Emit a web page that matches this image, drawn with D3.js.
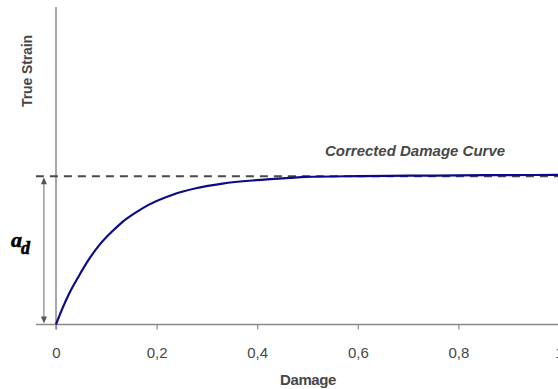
<!DOCTYPE html>
<html>
<head>
<meta charset="utf-8">
<script src="https://cdn.jsdelivr.net/npm/d3@7"></script>
<style>
  html, body { margin: 0; padding: 0; background: #fff; }
  svg { display: block; }
</style>
</head>
<body>
<svg id="chart" width="558" height="389"></svg>
<script>
// ---- data ----
const damage = [0, 0.013, 0.026, 0.046, 0.066, 0.086, 0.113, 0.133, 0.159, 0.185, 0.232, 0.278, 0.331, 0.398, 0.463, 0.497, 0.6, 0.7, 0.8, 0.9, 1.0];
const strain = [0, 0.11, 0.207, 0.330, 0.442, 0.535, 0.632, 0.694, 0.756, 0.808, 0.875, 0.918, 0.950, 0.973, 0.988, 0.995, 1.0, 1.003, 1.005, 1.007, 1.008];
const xTicks = [0, 0.2, 0.4, 0.6, 0.8, 1];
const asymptote = 1.0;
const curveLabel = "Corrected Damage Curve";
const xTitle = "Damage";
const yTitle = "True Strain";

// ---- layout ----
const svg = d3.select("#chart");
const x = d3.scaleLinear().domain([0, 1]).range([56, 559]);
const y = d3.scaleLinear().domain([0, 2.14]).range([324.5, 7]);
const axisColor = "#8a8a8a";
const textColor = "#474747";
const font = "Arial, 'Liberation Sans', sans-serif";

// x axis line (extends a bit left of origin)
svg.append("line")
  .attr("x1", x(-0.04)).attr("x2", 558)
  .attr("y1", y(0)).attr("y2", y(0))
  .attr("stroke", axisColor).attr("stroke-width", 1.5);

// y axis line
svg.append("line")
  .attr("x1", x(0)).attr("x2", x(0))
  .attr("y1", y(2.14)).attr("y2", y(0) + 5)
  .attr("stroke", axisColor).attr("stroke-width", 1.5);

// x ticks + labels
const xAxis = d3.axisBottom(x)
  .tickValues(xTicks)
  .tickSize(5)
  .tickFormat(d => d3.format(".1~f")(d).replace(".", ","));
const gx = svg.append("g").attr("transform", `translate(0,${y(0)})`).call(xAxis);
gx.select(".domain").remove();
gx.selectAll(".tick line").attr("stroke", axisColor).attr("stroke-width", 1.2);
gx.selectAll(".tick text")
  .attr("y", 23).attr("dy", "0.71em")
  .attr("fill", textColor)
  .style("font-family", font).style("font-size", "15px");

// dashed asymptote
svg.append("line")
  .attr("x1", x(-0.04)).attr("x2", 558)
  .attr("y1", y(asymptote)).attr("y2", y(asymptote))
  .attr("stroke", "#4a4a4a").attr("stroke-width", 2)
  .attr("stroke-dasharray", "8,6");

// double arrow for a_d
const ax = x(-0.024);
const yTop = y(asymptote) + 1, yBot = y(0) - 1;
svg.append("line")
  .attr("x1", ax).attr("x2", ax)
  .attr("y1", yTop + 4).attr("y2", yBot - 4)
  .attr("stroke", "#6a6a6a").attr("stroke-width", 1);
svg.append("path")
  .attr("d", `M${ax},${yTop} L${ax - 3},${yTop + 7} L${ax + 3},${yTop + 7} Z`)
  .attr("fill", "#555");
svg.append("path")
  .attr("d", `M${ax},${yBot} L${ax - 3},${yBot - 7} L${ax + 3},${yBot - 7} Z`)
  .attr("fill", "#555");

// curve
const line = d3.line()
  .x((d, i) => x(damage[i]))
  .y((d, i) => y(strain[i]))
  .curve(d3.curveMonotoneX);
svg.append("path")
  .datum(damage)
  .attr("d", line)
  .attr("fill", "none")
  .attr("stroke", "#0b0b86")
  .attr("stroke-width", 2.2);

// curve label
svg.append("text")
  .attr("x", 325).attr("y", 156)
  .attr("fill", textColor)
  .style("font-family", font).style("font-size", "15px")
  .style("font-weight", "bold").style("font-style", "italic")
  .style("letter-spacing", "0px")
  .text(curveLabel);

// x title
svg.append("text")
  .attr("x", 308).attr("y", 385)
  .attr("text-anchor", "middle")
  .attr("fill", textColor)
  .style("font-family", font).style("font-size", "15px")
  .style("font-weight", "bold").style("letter-spacing", "-0.4px")
  .text(xTitle);

// y title
svg.append("text")
  .attr("transform", "translate(32,71) rotate(-90)")
  .attr("text-anchor", "middle")
  .attr("fill", textColor)
  .style("font-family", font).style("font-size", "14px")
  .style("font-weight", "bold").style("letter-spacing", "-0.1px")
  .text(yTitle);

// a_d symbol
const ad = svg.append("text")
  .attr("x", 11).attr("y", 247)
  .attr("fill", "#000")
  .attr("stroke", "#000").attr("stroke-width", 0.6)
  .style("font-family", "'Liberation Serif', 'DejaVu Serif', serif")
  .style("font-weight", "bold").style("font-style", "italic");
ad.append("tspan").style("font-size", "22px").text("a");
ad.append("tspan").attr("dy", 7).attr("dx", -1).style("font-size", "18px").text("d");
</script>
</body>
</html>
